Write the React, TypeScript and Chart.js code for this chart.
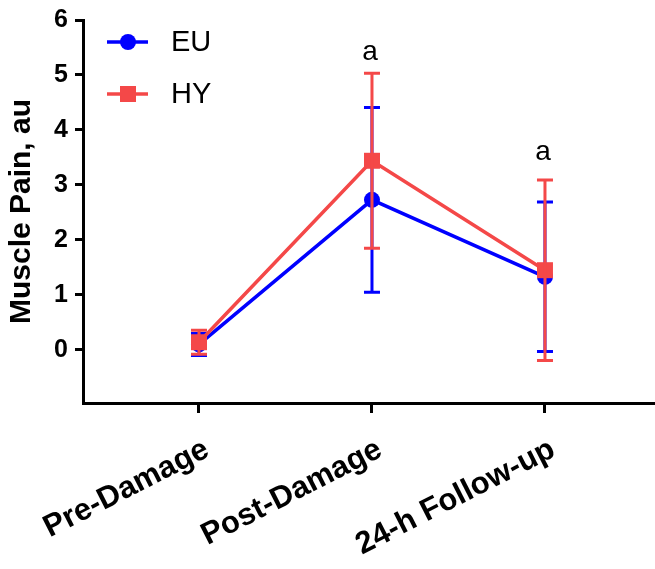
import React, { useEffect, useRef } from 'react';
import { Chart, registerables } from 'chart.js';

Chart.register(...registerables);

// ---- data ----
const categories = ['Pre-Damage', 'Post-Damage', '24-h Follow-up'];
const euMean = [0.1, 2.73, 1.33];
const euSD = [0.2, 1.68, 1.36];
const hyMean = [0.14, 3.44, 1.45];
const hySD = [0.22, 1.59, 1.64];
const yTicks = [0, 1, 2, 3, 4, 5, 6];
const sigLabels = ['', 'a', 'a'];
const sigY = [0, 5.42, 3.6];
const seriesNames = ['EU', 'HY'];

const BLUE = '#0000FF';
const RED = '#F44848';
const FONT = "'Liberation Sans', Arial, Helvetica, sans-serif";

const errorArrays = [euSD, hySD];

const errorBarPlugin = {
  id: 'errorBars',
  afterDatasetDraw(chart: any, args: any) {
    const ds = chart.data.datasets[args.index];
    const sd = errorArrays[args.index];
    const ctx = chart.ctx;
    const y = chart.scales.y;
    ctx.save();
    ctx.strokeStyle = ds.borderColor;
    ctx.lineWidth = 3;
    args.meta.data.forEach((pt: any, i: number) => {
      const v = ds.data[i].y;
      const top = y.getPixelForValue(v + sd[i]);
      const bot = y.getPixelForValue(v - sd[i]);
      ctx.beginPath();
      ctx.moveTo(pt.x, top);
      ctx.lineTo(pt.x, bot);
      ctx.moveTo(pt.x - 8, top);
      ctx.lineTo(pt.x + 8, top);
      ctx.moveTo(pt.x - 8, bot);
      ctx.lineTo(pt.x + 8, bot);
      ctx.stroke();
    });
    ctx.restore();
  },
};

const sigPlugin = {
  id: 'sigLabels',
  afterDatasetsDraw(chart: any) {
    const ctx = chart.ctx;
    ctx.save();
    ctx.fillStyle = '#000';
    ctx.font = `28px ${FONT}`;
    ctx.textAlign = 'center';
    ctx.textBaseline = 'middle';
    sigLabels.forEach((s, i) => {
      if (!s) return;
      ctx.fillText(s, chart.scales.x.getPixelForValue(i) - 2, chart.scales.y.getPixelForValue(sigY[i]));
    });
    ctx.restore();
  },
};

const xLabelPlugin = {
  id: 'xLabels',
  afterDraw(chart: any) {
    const ctx = chart.ctx;
    const xs = chart.scales.x;
    ctx.save();
    ctx.fillStyle = '#000';
    ctx.font = `bold 31px ${FONT}`;
    ctx.textAlign = 'right';
    ctx.textBaseline = 'top';
    categories.forEach((c, i) => {
      ctx.save();
      ctx.translate(xs.getPixelForValue(i) + 1, xs.top + 31);
      ctx.rotate((-27 * Math.PI) / 180);
      ctx.fillText(c, 0, 0);
      ctx.restore();
    });
    ctx.restore();
  },
};

const legendPlugin = {
  id: 'customLegend',
  afterDraw(chart: any) {
    const ctx = chart.ctx;
    const colors = [BLUE, RED];
    ctx.save();
    seriesNames.forEach((name, i) => {
      const yy = 42 + i * 52;
      ctx.strokeStyle = colors[i];
      ctx.fillStyle = colors[i];
      ctx.lineWidth = 3.5;
      ctx.beginPath();
      ctx.moveTo(107, yy);
      ctx.lineTo(148, yy);
      ctx.stroke();
      if (i === 0) {
        ctx.beginPath();
        ctx.arc(128, yy, 8, 0, Math.PI * 2);
        ctx.fill();
      } else {
        ctx.fillRect(120, yy - 8, 16, 16);
      }
      ctx.fillStyle = '#000';
      ctx.font = `29px ${FONT}`;
      ctx.textAlign = 'left';
      ctx.textBaseline = 'middle';
      ctx.fillText(name, 171, yy + 1);
    });
    ctx.restore();
  },
};

export default function App() {
  const ref = useRef<HTMLCanvasElement>(null);
  useEffect(() => {
    document.body.style.margin = '0';
    const chart = new Chart(ref.current as HTMLCanvasElement, {
      type: 'line',
      data: {
        datasets: [
          {
            label: seriesNames[0],
            data: euMean.map((v, i) => ({ x: i, y: v })),
            borderColor: BLUE,
            backgroundColor: BLUE,
            pointBackgroundColor: BLUE,
            pointBorderColor: BLUE,
            pointStyle: 'circle',
            pointRadius: 8,
            pointBorderWidth: 0,
            borderWidth: 3.5,
            tension: 0,
            order: 1,
            clip: false,
          },
          {
            label: seriesNames[1],
            data: hyMean.map((v, i) => ({ x: i, y: v })),
            borderColor: RED,
            backgroundColor: RED,
            pointBackgroundColor: RED,
            pointBorderColor: RED,
            pointStyle: 'rect',
            pointRadius: 11.3,
            pointBorderWidth: 0,
            borderWidth: 3.5,
            tension: 0,
            order: 0,
            clip: false,
          },
        ] as any,
      },
      options: {
        responsive: false,
        animation: false,
        layout: { autoPadding: false, padding: { top: 20, left: 0, right: 0, bottom: 0 } },
        plugins: { legend: { display: false }, tooltip: { enabled: false } },
        scales: {
          x: {
            type: 'linear',
            min: -0.6705,
            max: 2.636,
            afterBuildTicks: (s: any) => {
              s.ticks = categories.map((_, i) => ({ value: i }));
            },
            afterFit: (s: any) => {
              s.height = 166;
              s.paddingLeft = 0;
              s.paddingRight = 0;
            },
            ticks: { display: false },
            grid: { drawOnChartArea: false, color: '#000', lineWidth: 3, tickLength: 10 },
            border: { display: true, color: '#000', width: 3 },
          },
          y: {
            type: 'linear',
            min: -0.965,
            max: 6,
            afterBuildTicks: (s: any) => {
              s.ticks = yTicks.map((v) => ({ value: v }));
            },
            afterFit: (s: any) => {
              s.width = 83;
              s.paddingTop = 0;
              s.paddingBottom = 0;
            },
            ticks: {
              color: '#000',
              font: { family: FONT, size: 25, weight: 'bold' },
              padding: 7,
            },
            grid: { drawOnChartArea: false, color: '#000', lineWidth: 3, tickLength: 8 },
            border: { display: true, color: '#000', width: 3 },
            title: {
              display: true,
              text: 'Muscle Pain, au',
              color: '#000',
              font: { family: FONT, size: 30, weight: 'bold' },
              padding: { top: 4, bottom: 0 },
            },
          },
        },
      } as any,
      plugins: [errorBarPlugin, sigPlugin, xLabelPlugin, legendPlugin],
    });
    return () => chart.destroy();
  }, []);
  return (
    <div style={{ width: 655, height: 569 }}>
      <canvas ref={ref} width={655} height={569} style={{ display: 'block' }} />
    </div>
  );
}
